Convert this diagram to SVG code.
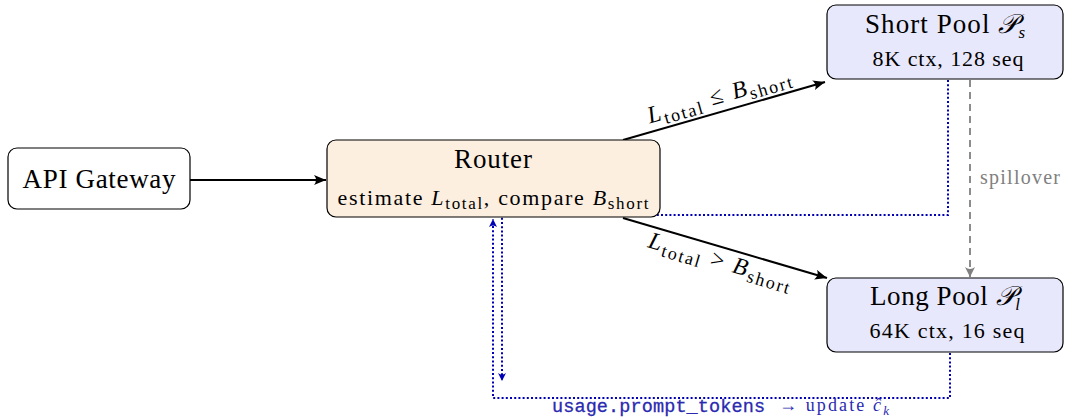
<svg xmlns="http://www.w3.org/2000/svg" width="1067" height="418" viewBox="0 0 1067 418">
<defs>
<style>
.box{stroke:#000;stroke-width:1.2}
.t{font-family:"Liberation Serif","DejaVu Serif",serif;fill:#000;text-anchor:middle}
.big{font-size:27px}
.small{font-size:22px}
.i{font-style:italic}
.blue{stroke:#0000b4;stroke-width:2;stroke-dasharray:2 2.2;fill:none}
</style>
<marker id="ah" viewBox="0 0 12 10" refX="12" refY="5" markerWidth="12" markerHeight="10" markerUnits="userSpaceOnUse" orient="auto">
<path d="M0,0 Q4,5 0,10 L12,5 Z" fill="#000"/>
</marker>
<marker id="bh" viewBox="0 0 8 8" refX="8" refY="4" markerWidth="8" markerHeight="8" markerUnits="userSpaceOnUse" orient="auto">
<path d="M0,0 Q3,4 0,8 L8,4 Z" fill="#0000b4"/>
</marker>
<marker id="gh" viewBox="0 0 10 10" refX="10" refY="5" markerWidth="10" markerHeight="10" markerUnits="userSpaceOnUse" orient="auto">
<path d="M0,0 Q4,5 0,10 L10,5 Z" fill="#808080"/>
</marker>
</defs>
<rect width="1067" height="418" fill="#fff"/>
<g id="connectors" fill="none">
<line x1="190" y1="180" x2="326" y2="180" stroke="#000" stroke-width="2" marker-end="url(#ah)"/>
<line x1="623" y1="140" x2="825" y2="82" stroke="#000" stroke-width="2" marker-end="url(#ah)"/>
<line x1="623" y1="218" x2="827" y2="278" stroke="#000" stroke-width="2" marker-end="url(#ah)"/>
<line x1="970" y1="80" x2="970" y2="277" stroke="#808080" stroke-width="1.8" stroke-dasharray="7 5" marker-end="url(#gh)"/>
<path class="blue" d="M948,80 V215 H502 V381" marker-end="url(#bh)"/>
<path class="blue" d="M950,353 V398 H493 V219" marker-end="url(#bh)"/>
<text class="t" x="980" y="184" textLength="80" style="font-size:20px;fill:#808080;text-anchor:start">spillover</text>
<text class="t" x="721" y="103" transform="rotate(-16 721 103)" textLength="148" style="font-size:24px"><tspan class="i">L</tspan><tspan dy="5" style="font-size:18px">total</tspan><tspan dy="-5"> ≤ </tspan><tspan class="i">B</tspan><tspan dy="5" style="font-size:18px">short</tspan></text>
<text class="t" x="718" y="268" transform="rotate(16.5 718 268)" textLength="148" style="font-size:24px"><tspan class="i">L</tspan><tspan dy="5" style="font-size:18px">total</tspan><tspan dy="-5"> &gt; </tspan><tspan class="i">B</tspan><tspan dy="5" style="font-size:18px">short</tspan></text>
<text x="552" y="412" textLength="213" style="font-family:'Liberation Mono','DejaVu Sans Mono',monospace;font-size:18.5px;fill:#2a2ab0;stroke:#2a2ab0;stroke-width:0.3">usage.prompt_tokens</text>
<text x="779" y="411" textLength="110" style="font-family:'Liberation Serif',serif;font-size:18px;fill:#2a2ab0">→ update <tspan font-style="italic">ĉ</tspan><tspan font-style="italic" dy="4" font-size="13">k</tspan></text>
</g>
<g id="gateway">
<rect class="box" x="8" y="148" width="182" height="61" rx="9" fill="#fff"/>
<text class="t big" x="99" y="188" textLength="153">API Gateway</text>
</g>
<g id="router">
<rect class="box" x="327" y="140" width="333" height="77" rx="9" fill="#fdefe0"/>
<text class="t big" x="493" y="168" textLength="78">Router</text>
<text class="t small" x="493" y="205" textLength="311"><tspan>estimate </tspan><tspan class="i">L</tspan><tspan dy="4" font-size="17">total</tspan><tspan dy="-4">, compare </tspan><tspan class="i">B</tspan><tspan dy="4" font-size="17">short</tspan></text>
</g>
<g id="short-pool">
<rect class="box" x="827" y="5" width="236" height="74" rx="9" fill="#e8e8fc"/>
<text class="t big" x="945" y="33" textLength="160">Short Pool <tspan class="i">𝒫</tspan><tspan class="i" dy="5" font-size="17">s</tspan></text>
<text class="t small" x="948" y="66" textLength="151">8K ctx, 128 seq</text>
</g>
<g id="long-pool">
<rect class="box" x="827" y="278" width="236" height="74" rx="9" fill="#e8e8fc"/>
<text class="t big" x="945" y="305" textLength="150">Long Pool <tspan class="i">𝒫</tspan><tspan class="i" dy="5" font-size="17">l</tspan></text>
<text class="t small" x="947" y="338" textLength="155">64K ctx, 16 seq</text>
</g>
</svg>
